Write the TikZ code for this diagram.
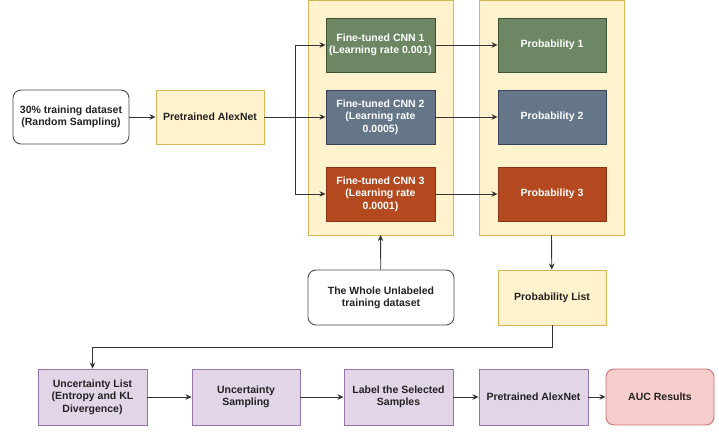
\documentclass[tikz,border=0pt]{standalone}
\usepackage{fontspec}
\setmainfont{Liberation Sans}
\usepackage{tikz}
\usetikzlibrary{arrows.meta, positioning, calc}

\definecolor{ylwfill}{HTML}{FFF2CC}
\definecolor{ylwline}{HTML}{D6B656}
\definecolor{grnfill}{HTML}{6D8764}
\definecolor{grnline}{HTML}{3A5431}
\definecolor{blufill}{HTML}{647687}
\definecolor{bluline}{HTML}{314354}
\definecolor{orgfill}{HTML}{B4491F}
\definecolor{orgline}{HTML}{8A3310}
\definecolor{prpfill}{HTML}{E1D5E7}
\definecolor{prpline}{HTML}{9673A6}
\definecolor{pnkfill}{HTML}{F8CECC}
\definecolor{pnkline}{HTML}{D07070}
\definecolor{txt}{HTML}{222222}

\tikzset{
  box/.style={draw, line width=0.9pt, minimum width=108pt, minimum height=54pt,
    align=center, inner sep=2pt, font=\bfseries\fontsize{10.5}{12.3}\selectfont, text=txt},
  ylwbox/.style={box, fill=ylwfill, draw=ylwline},
  grnbox/.style={box, fill=grnfill, draw=grnline, text=white},
  blubox/.style={box, fill=blufill, draw=bluline, text=white},
  orgbox/.style={box, fill=orgfill, draw=orgline, text=white},
  prpbox/.style={box, fill=prpfill, draw=prpline, minimum height=56pt},
  rndbox/.style={box, fill=white, draw=black!70, rounded corners=8pt},
  frame/.style={draw=ylwline, fill=ylwfill, line width=0.9pt},
  arr/.style={-{Stealth[length=6pt,width=5.5pt]}, line width=0.9pt, draw=black!80}
}

\begin{document}
\begin{tikzpicture}[x=1pt, y=-1pt]
\useasboundingbox (0,0) rectangle (719,434);

% the two yellow containers
\draw[frame] (308,0.5) rectangle (453,235);
\draw[frame] (479,0.5) rectangle (624,235);
\coordinate (frameA) at (380.5,235);
\coordinate (frameB) at (551.5,235);

% input and pretrained model
\node[rndbox, minimum width=116pt] (start) at (71,117) {30\% training dataset\\(Random Sampling)};
\node[ylwbox] (alex1) at (210,117) {Pretrained AlexNet};

% fine-tuned CNNs
\node[grnbox, minimum width=109pt] (cnn1) at (380.5,45) {Fine-tuned CNN 1\\(Learning rate 0.001)};
\node[blubox, minimum width=109pt] (cnn2) at (380.5,117) {Fine-tuned CNN 2\\(Learning rate\\0.0005)};
\node[orgbox, minimum width=109pt] (cnn3) at (380.5,194) {Fine-tuned CNN 3\\(Learning rate\\0.0001)};

% probabilities
\node[grnbox] (prob1) at (552,45) {Probability 1};
\node[blubox] (prob2) at (552,117) {Probability 2};
\node[orgbox] (prob3) at (552,194) {Probability 3};

\node[rndbox, minimum width=146pt, minimum height=55pt] (whole) at (381,297.5) {The Whole Unlabeled\\training dataset};
\node[ylwbox, minimum height=55pt] (problist) at (552,297.5) {Probability List};

% bottom row
\node[prpbox, minimum width=109pt] (ulist) at (92.5,397) {Uncertainty List\\(Entropy and KL\\Divergence)};
\node[prpbox] (usamp) at (246,397) {Uncertainty\\Sampling};
\node[prpbox, minimum width=109pt] (label) at (398.5,397) {Label the Selected\\Samples};
\node[prpbox, minimum width=109pt] (alex2) at (533.5,397) {Pretrained AlexNet};
\node[box, fill=pnkfill, draw=pnkline, rounded corners=8pt, minimum height=56pt] (auc) at (660,397) {AUC Results};

% connectors
\coordinate (split) at (295,117);
\draw[arr] (start) -- (alex1);
\draw[arr] (alex1) -- (cnn2);
\draw[arr] (split) |- (cnn1);
\draw[arr] (split) |- (cnn3);
\draw[arr] (cnn1) -- (prob1);
\draw[arr] (cnn2) -- (prob2);
\draw[arr] (cnn3) -- (prob3);
\draw[arr] (whole) -- (frameA);
\draw[arr] (frameB) -- (problist);
\draw[arr] (problist.south) -- ++(0,22) -| (ulist.north);
\draw[arr] (ulist) -- (usamp);
\draw[arr] (usamp) -- (label);
\draw[arr] (label) -- (alex2);
\draw[arr] (alex2) -- (auc);
\end{tikzpicture}
\end{document}
